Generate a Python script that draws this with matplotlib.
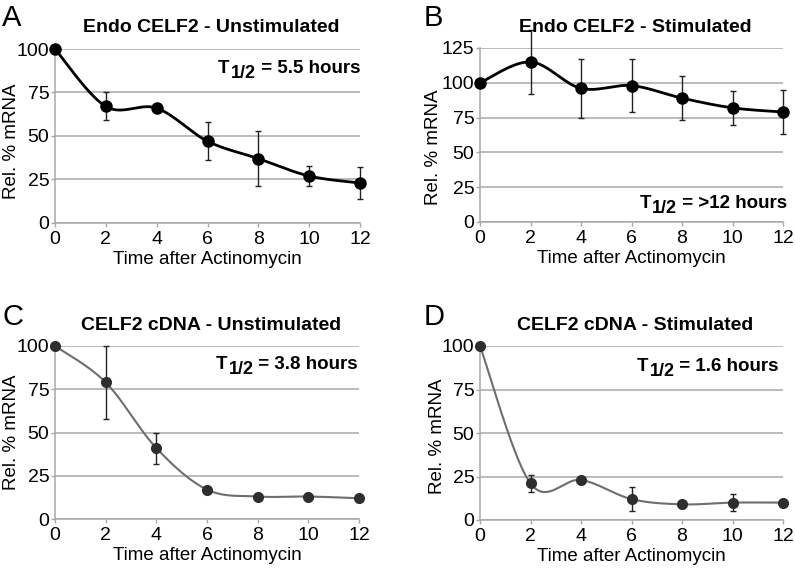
import numpy as np
import matplotlib
matplotlib.use("Agg")
import matplotlib.pyplot as plt

plt.rcParams['font.family'] = ['Liberation Sans', 'DejaVu Sans']

# time points (hours after actinomycin)
hours = [0, 2, 4, 6, 8, 10, 12]

# A - Endo CELF2 unstimulated
endo_unstim = [100, 67, 66, 47, 37, 27, 23]
endo_unstim_err = [0, 8, 2, 11, 16, 6, 9]
# B - Endo CELF2 stimulated
endo_stim = [100, 115, 96, 98, 89, 82, 79]
endo_stim_err = [0, 23, 21, 19, 16, 12, 16]
# C - CELF2 cDNA unstimulated
cdna_unstim = [100, 79, 41, 17, 13, 13, 12]
cdna_unstim_err = [0, 21, 9, 1, 1, 1, 1]
# D - CELF2 cDNA stimulated
cdna_stim = [100, 21, 23, 12, 9, 10, 10]
cdna_stim_err = [0, 5, 1, 7, 2, 5, 1]

W, H = 795, 572


def smooth(x, y, n=40):
    # Excel-style smoothed line (Catmull-Rom bezier)
    pts = np.column_stack([np.asarray(x, float), np.asarray(y, float)])
    out = []
    for i in range(len(pts) - 1):
        p0 = pts[i - 1] if i > 0 else pts[i]
        p1 = pts[i]
        p2 = pts[i + 1]
        p3 = pts[i + 2] if i + 2 < len(pts) else pts[i + 1]
        c1 = p1 + (p2 - p0) / 6
        c2 = p2 - (p3 - p1) / 6
        t = np.linspace(0, 1, n)[:, None]
        seg = (1 - t) ** 3 * p1 + 3 * (1 - t) ** 2 * t * c1 + 3 * (1 - t) * t ** 2 * c2 + t ** 3 * p2
        out.append(seg)
    s = np.vstack(out)
    return s[:, 0], s[:, 1]


def px(l, r, b, t):
    return [l / W, 1 - b / H, (r - l) / W, (b - t) / H]


panels = [
    dict(rect=px(55, 360, 223, 49), y=endo_unstim, e=endo_unstim_err, ymax=100,
         title='Endo CELF2 - Unstimulated', title_y=32, letter='A', letter_x=2, letter_y=26,
         half='5.5 hours', half_pos=(360, 73), ylab=(-0.115, 0.47),
         line='black', mk='black', lw=2.0, ms=8),
    dict(rect=px(480, 783, 222, 48), y=endo_stim, e=endo_stim_err, ymax=125,
         title='Endo CELF2 - Stimulated', title_y=32, letter='B', letter_x=424, letter_y=26,
         half='>12 hours', half_pos=(787, 208), ylab=(-0.127, 0.43),
         line='black', mk='black', lw=2.0, ms=8),
    dict(rect=px(55, 359, 519, 346), y=cdna_unstim, e=cdna_unstim_err, ymax=100,
         title='CELF2 cDNA - Unstimulated', title_y=330, letter='C', letter_x=2, letter_y=325,
         half='3.8 hours', half_pos=(358, 369), ylab=(-0.115, 0.5),
         line='#6e6e6e', mk='#2e2e2e', lw=1.5, ms=7),
    dict(rect=px(480, 783, 520, 346), y=cdna_stim, e=cdna_stim_err, ymax=100,
         title='CELF2 cDNA - Stimulated', title_y=330, letter='D', letter_x=424, letter_y=325,
         half='1.6 hours', half_pos=(779, 371), ylab=(-0.111, 0.48),
         line='#6e6e6e', mk='#2e2e2e', lw=1.5, ms=7),
]

fig = plt.figure(figsize=(W / 100, H / 100), dpi=100)
renderer = fig.canvas.get_renderer()

for p in panels:
    ax = fig.add_axes(p['rect'])
    ax.set_xlim(0, 12)
    ax.set_ylim(0, p['ymax'])
    ax.set_yticks(np.arange(0, p['ymax'] + 1, 25))
    ax.set_xticks(hours)
    ax.yaxis.grid(True, color='#a8a8a8', linewidth=1.1)
    ax.set_axisbelow(True)
    for s in ['top', 'right']:
        ax.spines[s].set_visible(False)
    for s in ['left', 'bottom']:
        ax.spines[s].set_color('#a8a8a8')
        ax.spines[s].set_linewidth(1.1)
    ax.tick_params(colors='#a8a8a8', labelcolor='black', labelsize=14,
                   length=3, width=1)
    ax.tick_params(axis='y', pad=1)
    ax.tick_params(axis='x', pad=3)

    sx, sy = smooth(hours, p['y'])
    ax.plot(sx, sy, color=p['line'], lw=p['lw'], clip_on=False, zorder=3)
    ax.errorbar(hours, p['y'], yerr=p['e'], fmt='none', ecolor='#222222',
                elinewidth=1.0, capsize=2.5, capthick=1.0, clip_on=False, zorder=4)
    ax.plot(hours, p['y'], 'o', color=p['mk'], ms=p['ms'], clip_on=False, zorder=5)

    ax.set_xlabel('Time after Actinomycin', fontsize=13.5, labelpad=2)
    ax.set_ylabel('Rel. % mRNA', fontsize=13.5)
    ax.yaxis.set_label_coords(*p['ylab'])

    l, b, w, h = p['rect']
    fig.text(l + w / 2 + 4 / W, 1 - p['title_y'] / H, p['title'],
             ha='center', va='baseline', fontsize=14, fontweight='bold')
    fig.text(p['letter_x'] / W, 1 - p['letter_y'] / H, p['letter'],
             ha='left', va='baseline', fontsize=21)

    # T1/2 label built from pieces so the subscript keeps a large size
    hx, hy = p['half_pos']
    rest = fig.text(hx / W, 1 - hy / H, ' = ' + p['half'], ha='right', va='baseline',
                    fontsize=13.5, fontweight='bold')
    x0 = rest.get_window_extent(renderer).x0
    sub = fig.text(x0 / W, 1 - (hy + 5) / H, '1/2', ha='right', va='baseline',
                   fontsize=13, fontweight='bold')
    x1 = sub.get_window_extent(renderer).x0
    fig.text((x1 - 1) / W, 1 - hy / H, 'T', ha='right', va='baseline',
             fontsize=13.5, fontweight='bold')

fig.savefig('out.png', dpi=100)
